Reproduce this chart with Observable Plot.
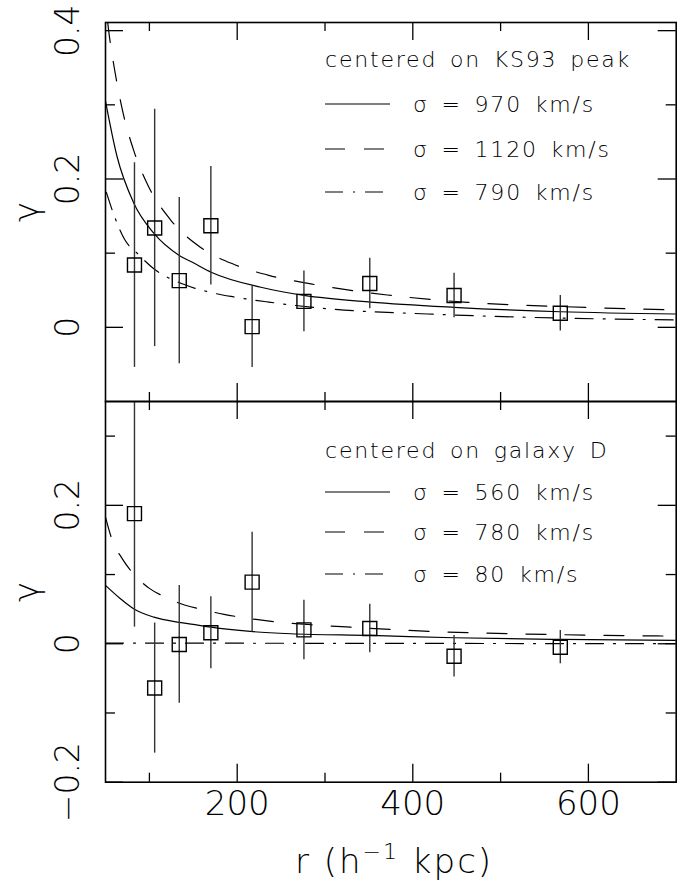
<!DOCTYPE html>
<html>
<head>
<meta charset="utf-8">
<script src="https://cdn.jsdelivr.net/npm/d3@7"></script>
<script src="https://cdn.jsdelivr.net/npm/@observablehq/plot@0.6"></script>
<style>
  body { margin: 0; background: #fff; }
  #chart { position: relative; width: 685px; height: 881px; }
  #chart svg { position: absolute; left: 0; top: 0; }
</style>
</head>
<body>
<div id="chart"></div>
<script>
// ---------------- data ----------------
const rBins = [83, 106, 134, 170, 217, 276, 351, 447, 568];

const ks93Gamma = [0.084, 0.134, 0.063, 0.137, 0.001, 0.035, 0.059, 0.043, 0.019];
const ks93Err   = [0.138, 0.160, 0.112, 0.080, 0.055, 0.041, 0.034, 0.030, 0.024];

const galDGamma = [0.188, -0.064, -0.001, 0.016, 0.089, 0.020, 0.022, -0.018, -0.005];
const galDErr   = [0.164, 0.094, 0.085, 0.052, 0.072, 0.043, 0.035, 0.030, 0.024];

// model curves, upper panel (centered on KS93 peak)
const ks970R = [50, 63, 82, 105, 134, 150, 171, 227, 276, 352, 447, 568, 700];
const ks970G = [0.305, 0.231, 0.168, 0.127, 0.097, 0.087, 0.074, 0.054, 0.043, 0.034, 0.027, 0.021, 0.018];
const ks1120R = [52.5, 53.4, 61, 70, 82, 99, 124, 158, 196, 236, 284, 371, 462, 568, 700];
const ks1120G = [0.411, 0.402, 0.343, 0.289, 0.239, 0.190, 0.145, 0.108, 0.085, 0.070, 0.0585, 0.0436, 0.0337, 0.028, 0.0234];
const ks790R = [51, 61, 72, 86, 105, 139, 170, 196, 236, 303, 417, 531, 700];
const ks790G = [0.182, 0.147, 0.118, 0.100, 0.079, 0.058, 0.047, 0.041, 0.034, 0.025, 0.018, 0.0135, 0.010];

// model curves, lower panel (centered on galaxy D)
const gd560R = [50, 67, 82, 105, 134, 150, 170, 215, 261, 352, 447, 568, 700];
const gd560G = [0.0843, 0.065, 0.0506, 0.0385, 0.031, 0.028, 0.024, 0.0178, 0.0145, 0.012, 0.0087, 0.0062, 0.0048];
const gd780R = [50, 57, 69, 82, 100, 118, 140, 162, 185, 208, 251, 284, 329, 420, 512, 603, 700];
const gd780G = [0.183, 0.152, 0.123, 0.101, 0.080, 0.0674, 0.056, 0.049, 0.0424, 0.0376, 0.0308, 0.0275, 0.024, 0.0178, 0.0145, 0.0124, 0.011];
const gd80R = [50, 700];
const gd80G = [0.001, 0.0001];

// ticks and labels
const xMajor = [200, 400, 600];
const xMinor = [100, 300, 500];
const xTickLabels = ["200", "400", "600"];
const upperYMajor = [0, 0.2, 0.4];
const upperYMinor = [0.1, 0.3];
const upperYLabels = ["0", "0.2", "0.4"];
const lowerYMajor = [-0.2, 0, 0.2];
const lowerYMinor = [-0.1, 0.1, 0.3];
const lowerYLabels = ["\u22120.2", "0", "0.2"];
const yTitle = "\u03b3";
const xTitleParts = ["r (h", "\u22121", " kpc)"];

const upperLegendTitle = "centered on KS93 peak";
const upperLegend = ["\u03c3 = 970 km/s", "\u03c3 = 1120 km/s", "\u03c3 = 790 km/s"];
const lowerLegendTitle = "centered on galaxy D";
const lowerLegend = ["\u03c3 = 560 km/s", "\u03c3 = 780 km/s", "\u03c3 = 80 km/s"];

// ---------------- drawing ----------------
const W = 685, H = 881;
const ML = 105, MR = 9.3;
const FONT = "'DejaVu Sans', sans-serif";
const INK = "#000";
const DASH = "20,19";
const DASHDOT = "18,10,2,10";
const styles = [null, DASH, DASHDOT];

const toRows = (rs, gs, es) => rs.map((r, i) => ({r, g: gs[i], e: es ? es[i] : 0}));

function legendMark(title, labels, titleY, rowY) {
  return () => {
    const g = d3.create("svg:g").attr("text-anchor", "start");
    const tx = (x, y, s) => g.append("text")
      .attr("x", x).attr("y", y).attr("text-anchor", "start")
      .attr("font-family", FONT).attr("font-size", 22)
      .attr("font-weight", 200)
      .attr("letter-spacing", "1.8px").attr("word-spacing", "4px")
      .attr("fill", INK).text(s);
    tx(325, titleY, title);
    labels.forEach((s, i) => {
      g.append("line").attr("x1", 325).attr("x2", i === 0 ? 390 : 384)
        .attr("y1", rowY[i] - 8).attr("y2", rowY[i] - 8)
        .attr("stroke", "#000").attr("stroke-width", 1.2)
        .attr("stroke-dasharray", styles[i]);
      tx(413, rowY[i], s);
    });
    return g.node();
  };
}

function xTitleMark() {
  return () => {
    const t = d3.create("svg:text")
      .attr("x", 295).attr("y", 873).attr("text-anchor", "start")
      .attr("font-family", FONT).attr("font-size", 34).attr("font-weight", 200)
      .attr("letter-spacing", "2px").attr("fill", INK);
    t.append("tspan").text(xTitleParts[0]);
    t.append("tspan").attr("dy", -14).attr("font-size", 22).text(xTitleParts[1]);
    t.append("tspan").attr("dy", 14).text(xTitleParts[2]);
    return t.node();
  };
}

function panel(o) {
  const frameW = W - ML - MR;
  const frameH = o.bottom - o.top;
  const pts = toRows(rBins, o.gamma, o.err);
  const marks = [];
  // model curves
  o.curves.forEach((c, i) => {
    marks.push(Plot.line(toRows(c[0], c[1]), {
      x: "r", y: "g", curve: "monotone-x", stroke: "#000", strokeWidth: 1.2,
      strokeDasharray: styles[i], clip: true
    }));
  });
  // error bars
  marks.push(Plot.ruleX(pts, {x: "r", y1: d => d.g - d.e, y2: d => d.g + d.e,
    stroke: "#333", strokeWidth: 1.4, clip: true}));
  // squares
  marks.push(Plot.dot(pts, {x: "r", y: "g", symbol: "square", r: 7.9,
    stroke: "#000", fill: "none", strokeWidth: 1.4}));
  // ticks on all sides
  const tk = {stroke: "#000", strokeWidth: 1.3};
  [[o.yMajor, 18], [o.yMinor, 10]].forEach(([v, len]) => {
    marks.push(Plot.tickY(v, {y: d => d, insetRight: frameW - len, ...tk}));
    marks.push(Plot.tickY(v, {y: d => d, insetLeft: frameW - len, ...tk}));
  });
  [[xMajor, 18], [xMinor, 9]].forEach(([v, len]) => {
    marks.push(Plot.tickX(v, {x: d => d, insetBottom: frameH - len, ...tk}));
    marks.push(Plot.tickX(v, {x: d => d, insetTop: frameH - len, ...tk}));
  });
  marks.push(Plot.frame({stroke: "#000", strokeWidth: 1.6}));
  // y tick labels (rotated)
  marks.push(Plot.text(o.yMajor, {y: d => d, text: (d, i) => o.yLabels[i],
    frameAnchor: "left", textAnchor: "middle", dx: -37, rotate: -90,
    fontSize: 33, fontWeight: 200, fill: INK}));
  // y title
  marks.push(Plot.text([yTitle], {text: d => d, frameAnchor: "left", textAnchor: "middle",
    dx: -78, rotate: -90, fontSize: 34, fontWeight: 200, fill: INK}));
  if (o.showX) {
    marks.push(Plot.text(xMajor, {x: d => d, text: (d, i) => xTickLabels[i],
      frameAnchor: "bottom", dy: 33, fontSize: 34, fontWeight: 200, fill: INK}));
    marks.push(xTitleMark());
  }
  marks.push(legendMark(o.legendTitle, o.legend, o.titleY, o.rowY));

  return Plot.plot({
    width: W, height: H,
    marginLeft: ML, marginRight: MR, marginTop: o.top, marginBottom: H - o.bottom,
    x: {domain: [50, 700], axis: null},
    y: {domain: o.yDomain, axis: null},
    style: {fontFamily: FONT, background: "none", overflow: "visible"},
    marks
  });
}

const upper = panel({
  top: 22, bottom: 401, yDomain: [-0.1, 0.411],
  gamma: ks93Gamma, err: ks93Err,
  curves: [[ks970R, ks970G], [ks1120R, ks1120G], [ks790R, ks790G]],
  yMajor: upperYMajor, yMinor: upperYMinor, yLabels: upperYLabels,
  legendTitle: upperLegendTitle, legend: upperLegend, titleY: 67, rowY: [112, 157, 200],
  showX: false
});
const lower = panel({
  top: 401, bottom: 781.7, yDomain: [-0.2, 0.35],
  gamma: galDGamma, err: galDErr,
  curves: [[gd560R, gd560G], [gd780R, gd780G], [gd80R, gd80G]],
  yMajor: lowerYMajor, yMinor: lowerYMinor, yLabels: lowerYLabels,
  legendTitle: lowerLegendTitle, legend: lowerLegend, titleY: 458, rowY: [500, 540, 582],
  showX: true
});
const chart = document.getElementById("chart");
chart.append(lower, upper);
</script>
</body>
</html>
